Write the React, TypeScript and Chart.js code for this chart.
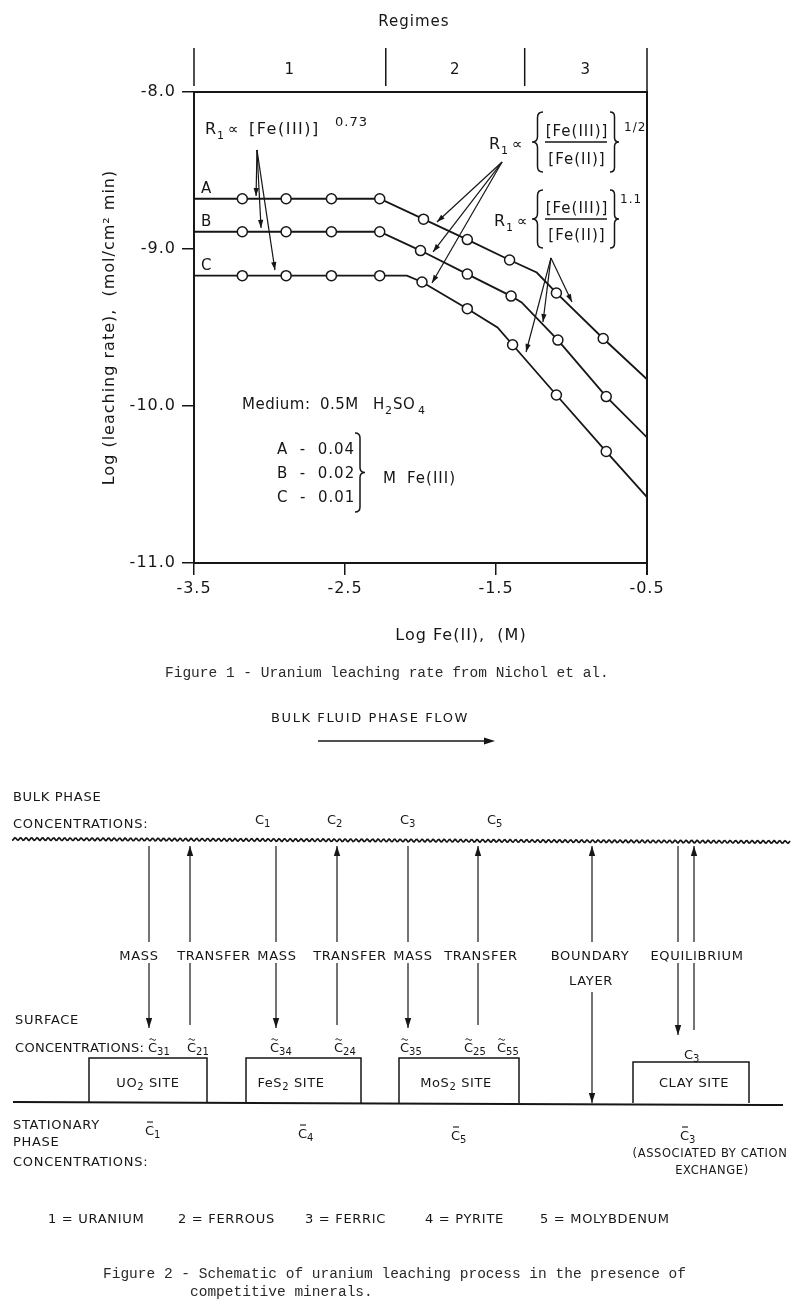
import React, { useEffect, useRef } from "react";
import { Chart, registerables } from "chart.js";

Chart.register(...registerables);

const FONT = "'DejaVu Sans', 'Liberation Sans', sans-serif";
const MONO = "'Liberation Mono', 'DejaVu Sans Mono', monospace";
const INK = "#161616";

// ---------------- chart data ----------------
const xTicks = [-3.5, -2.5, -1.5, -0.5];
const yTicks = [-8, -9, -10, -11];
const regimeBounds = [-3.5, -2.23, -1.31, -0.5];
const regimeLabels = ["1", "2", "3"];
const seriesLabels = ["A", "B", "C"];
const feIIIConc = ["0.04", "0.02", "0.01"];

// log Fe(II) (M) / log leaching rate; mark = 1 -> measured point (circle), 0 -> line vertex only
const logFeA = [-3.5, -3.18, -2.89, -2.59, -2.27, -1.98, -1.69, -1.41, -1.23, -1.1, -0.79, -0.5];
const rateA = [-8.68, -8.68, -8.68, -8.68, -8.68, -8.81, -8.94, -9.07, -9.15, -9.28, -9.57, -9.83];
const markA = [0, 1, 1, 1, 1, 1, 1, 1, 0, 1, 1, 0];

const logFeB = [-3.5, -3.18, -2.89, -2.59, -2.27, -2.0, -1.69, -1.4, -1.33, -1.09, -0.77, -0.5];
const rateB = [-8.89, -8.89, -8.89, -8.89, -8.89, -9.01, -9.16, -9.3, -9.34, -9.58, -9.94, -10.2];
const markB = [0, 1, 1, 1, 1, 1, 1, 1, 0, 1, 1, 0];

const logFeC = [-3.5, -3.18, -2.89, -2.59, -2.27, -2.09, -1.99, -1.69, -1.49, -1.39, -1.1, -0.77, -0.5];
const rateC = [-9.17, -9.17, -9.17, -9.17, -9.17, -9.17, -9.21, -9.38, -9.5, -9.61, -9.93, -10.29, -10.58];
const markC = [0, 1, 1, 1, 1, 0, 1, 1, 0, 1, 1, 1, 0];

// annotation arrows, in data units: [fromX, fromY, toX, toY]
const arrows073 = [
  [-3.083, -8.369, -3.089, -8.662],
  [-3.083, -8.369, -3.056, -8.866],
  [-3.083, -8.369, -2.964, -9.134],
];
const arrowsHalf = [
  [-1.46, -8.446, -1.891, -8.828],
  [-1.46, -8.446, -1.917, -9.019],
  [-1.46, -8.446, -1.924, -9.217],
];
const arrows11 = [
  [-1.136, -9.057, -0.997, -9.338],
  [-1.136, -9.057, -1.189, -9.465],
  [-1.136, -9.057, -1.301, -9.656],
];

function drawArrow(ctx: CanvasRenderingContext2D, x1: number, y1: number, x2: number, y2: number, head = 8) {
  ctx.beginPath();
  ctx.moveTo(x1, y1);
  ctx.lineTo(x2, y2);
  ctx.stroke();
  const a = Math.atan2(y2 - y1, x2 - x1);
  const w = head * 0.33;
  ctx.beginPath();
  ctx.moveTo(x2, y2);
  ctx.lineTo(x2 - head * Math.cos(a) + w * Math.sin(a), y2 - head * Math.sin(a) - w * Math.cos(a));
  ctx.lineTo(x2 - head * Math.cos(a) - w * Math.sin(a), y2 - head * Math.sin(a) + w * Math.cos(a));
  ctx.closePath();
  ctx.fill();
}

function drawBrace(ctx: CanvasRenderingContext2D, xo: number, y1: number, y2: number, w: number, dir: number) {
  const ym = (y1 + y2) / 2;
  const xm = xo + (dir * w) / 2;
  const xt = xo + dir * w;
  const r = Math.min(w / 2, (y2 - y1) / 6);
  ctx.beginPath();
  ctx.moveTo(xo, y1);
  ctx.quadraticCurveTo(xm, y1, xm, y1 + r);
  ctx.lineTo(xm, ym - r);
  ctx.quadraticCurveTo(xm, ym, xt, ym);
  ctx.quadraticCurveTo(xm, ym, xm, ym + r);
  ctx.lineTo(xm, y2 - r);
  ctx.quadraticCurveTo(xm, y2, xo, y2);
  ctx.stroke();
}

function drawR1(ctx: CanvasRenderingContext2D, x: number, base: number) {
  ctx.textAlign = "left";
  ctx.font = `16px ${FONT}`;
  ctx.fillText("R", x, base);
  ctx.font = `11px ${FONT}`;
  ctx.fillText("1", x + 12, base + 5);
  ctx.font = `15px ${FONT}`;
  ctx.fillText("\u221D", x + 23, base);
}

const overlayPlugin = {
  id: "overlay",
  beforeDraw(chart: any) {
    (chart.ctx as any).letterSpacing = "1px";
  },
  afterDraw(chart: any) {
    const ctx: CanvasRenderingContext2D = chart.ctx;
    const xs = chart.scales.x;
    const ys = chart.scales.y;
    const ca = chart.chartArea;
    const px = (v: number) => xs.getPixelForValue(v);
    const py = (v: number) => ys.getPixelForValue(v);
    ctx.save();
    (ctx as any).letterSpacing = "1px";
    ctx.strokeStyle = INK;
    ctx.fillStyle = INK;

    // top and right frame
    ctx.lineWidth = 2;
    ctx.beginPath();
    ctx.moveTo(ca.left, ca.top);
    ctx.lineTo(ca.right, ca.top);
    ctx.lineTo(ca.right, ca.bottom + 12);
    ctx.stroke();

    // regimes header
    ctx.lineWidth = 1.5;
    regimeBounds.forEach((b) => {
      const x = px(b);
      ctx.beginPath();
      ctx.moveTo(x, 48);
      ctx.lineTo(x, b === regimeBounds[regimeBounds.length - 1] ? ca.top : ca.top - 6);
      ctx.stroke();
    });
    ctx.font = `15px ${FONT}`;
    ctx.textAlign = "center";
    ctx.textBaseline = "middle";
    regimeLabels.forEach((l, i) => {
      ctx.fillText(l, (px(regimeBounds[i]) + px(regimeBounds[i + 1])) / 2, 70);
    });
    ctx.fillText("Regimes", 414, 22);

    // series letters
    ctx.textBaseline = "alphabetic";
    ctx.textAlign = "left";
    ctx.font = `15px ${FONT}`;
    [rateA[0], rateB[0], rateC[0]].forEach((r, i) => {
      ctx.fillText(seriesLabels[i], 201, py(r) - 6);
    });

    // arrows
    ctx.lineWidth = 1.2;
    [...arrows073, ...arrowsHalf, ...arrows11].forEach(([a, b, c, d]) => drawArrow(ctx, px(a), py(b), px(c), py(d)));

    // formula 1
    drawR1(ctx, 205, 134);
    ctx.font = `16px ${FONT}`;
    (ctx as any).letterSpacing = "1.5px";
    ctx.fillText("[Fe(III)]", 249, 134);
    (ctx as any).letterSpacing = "1px";
    ctx.font = `13px ${FONT}`;
    ctx.fillText("0.73", 335, 126);

    // formula 2 (1/2)
    drawR1(ctx, 489, 149);
    ctx.lineWidth = 1.5;
    drawBrace(ctx, 543, 112, 172, 11, -1);
    drawBrace(ctx, 610, 112, 172, 9, 1);
    ctx.font = `15px ${FONT}`;
    ctx.textAlign = "center";
    ctx.fillText("[Fe(III)]", 577, 136);
    ctx.fillText("[Fe(II)]", 577, 164);
    ctx.beginPath();
    ctx.moveTo(545, 142);
    ctx.lineTo(607, 142);
    ctx.stroke();
    ctx.textAlign = "left";
    ctx.font = `12px ${FONT}`;
    ctx.fillText("1/2", 624, 131);

    // formula 3 (1.1)
    drawR1(ctx, 494, 226);
    drawBrace(ctx, 543, 190, 248, 11, -1);
    drawBrace(ctx, 610, 190, 248, 9, 1);
    ctx.font = `15px ${FONT}`;
    ctx.textAlign = "center";
    ctx.fillText("[Fe(III)]", 577, 213);
    ctx.fillText("[Fe(II)]", 577, 240);
    ctx.beginPath();
    ctx.moveTo(545, 219);
    ctx.lineTo(607, 219);
    ctx.stroke();
    ctx.textAlign = "left";
    ctx.font = `12px ${FONT}`;
    ctx.fillText("1.1", 620, 203);

    // medium text
    (ctx as any).letterSpacing = "0.5px";
    ctx.font = `15px ${FONT}`;
    ctx.fillText("Medium:", 242, 409);
    ctx.fillText("0.5M", 320, 409);
    ctx.fillText("H", 373, 409);
    ctx.font = `11px ${FONT}`;
    ctx.fillText("2", 385, 414);
    ctx.font = `15px ${FONT}`;
    ctx.fillText("SO", 393, 409);
    ctx.font = `11px ${FONT}`;
    ctx.fillText("4", 418, 414);

    // legend of concentrations
    (ctx as any).letterSpacing = "1px";
    ctx.font = `15px ${FONT}`;
    const legY = [454, 478, 502];
    seriesLabels.forEach((s, i) => {
      ctx.fillText(`${s}  -  ${feIIIConc[i]}`, 277, legY[i]);
    });
    drawBrace(ctx, 355, 433, 512, 10, 1);
    ctx.fillText("M", 383, 483);
    ctx.fillText("Fe(III)", 407, 483);

    // x title
    ctx.textAlign = "center";
    ctx.font = `16px ${FONT}`;
    ctx.fillText("Log Fe(II),  (M)", 461, 640);

    // caption
    (ctx as any).letterSpacing = "0px";
    ctx.textAlign = "left";
    ctx.fillStyle = "#2a2a2a";
    ctx.font = `14.5px ${MONO}`;
    ctx.fillText("Figure 1 - Uranium leaching rate from Nichol et al.", 165, 677);
    ctx.restore();
  },
};

// ---------------- schematic ----------------
const S_FONT = "'DejaVu Sans', 'Liberation Sans', sans-serif";

function Txt(p: { x: number; y: number; children: any; anchor?: string; size?: number; ls?: number }) {
  return (
    <text
      x={p.x}
      y={p.y}
      fontSize={p.size ?? 13}
      fontFamily={S_FONT}
      letterSpacing={p.ls ?? 0.7}
      textAnchor={(p.anchor as any) ?? "start"}
      fill={INK}
    >
      {p.children}
    </text>
  );
}

function CLabel(p: { x: number; y: number; sub: string; mark?: "tilde" | "bar" }) {
  return (
    <g>
      <text x={p.x} y={p.y} fontSize={13} fontFamily={S_FONT} fill={INK}>
        C
        <tspan fontSize={10} dy={3}>
          {p.sub}
        </tspan>
      </text>
      {p.mark === "bar" && <line x1={p.x + 2} x2={p.x + 8} y1={p.y - 13} y2={p.y - 13} stroke={INK} strokeWidth={1.1} />}
      {p.mark === "tilde" && (
        <path d={`M${p.x + 1.5} ${p.y - 12.5} q1.6 -1.7 3.2 0 t3.2 0`} stroke={INK} strokeWidth={1} fill="none" />
      )}
    </g>
  );
}

function VLine(p: { x: number; segs: number[][]; up?: boolean; down?: boolean }) {
  const last = p.segs[p.segs.length - 1][1];
  const first = p.segs[0][0];
  return (
    <g>
      {p.segs.map((s, i) => (
        <line key={i} x1={p.x} x2={p.x} y1={s[0]} y2={s[1]} stroke={INK} strokeWidth={1.2} />
      ))}
      {p.up && <polygon points={`${p.x},${first} ${p.x - 3.2},${first + 10} ${p.x + 3.2},${first + 10}`} fill={INK} />}
      {p.down && <polygon points={`${p.x},${last} ${p.x - 3.2},${last - 10} ${p.x + 3.2},${last - 10}`} fill={INK} />}
    </g>
  );
}

const topSeg = [846, 942];
const vLines = [
  { x: 149, segs: [topSeg, [963, 1028]], down: true },
  { x: 190, segs: [topSeg, [963, 1025]], up: true },
  { x: 276, segs: [topSeg, [963, 1028]], down: true },
  { x: 337, segs: [topSeg, [963, 1025]], up: true },
  { x: 408, segs: [topSeg, [963, 1028]], down: true },
  { x: 478, segs: [topSeg, [963, 1025]], up: true },
  { x: 592, segs: [topSeg, [992, 1103]], up: true, down: true },
  { x: 678, segs: [topSeg, [963, 1035]], down: true },
  { x: 694, segs: [topSeg, [963, 1030]], up: true },
];
const flowWords = [
  ["MASS", 139],
  ["TRANSFER", 214],
  ["MASS", 277],
  ["TRANSFER", 350],
  ["MASS", 413],
  ["TRANSFER", 481],
  ["BOUNDARY", 590],
  ["EQUILIBRIUM", 697],
];
const boxes = [
  { x1: 89, x2: 207, top: 1058, name: "UO", sub: "2", cx: 148 },
  { x1: 246, x2: 361, top: 1058, name: "FeS", sub: "2", cx: 291 },
  { x1: 399, x2: 519, top: 1058, name: "MoS", sub: "2", cx: 456 },
  { x1: 633, x2: 749, top: 1062, name: "CLAY", sub: "", cx: 694 },
];
const legendItems = [
  ["1 = URANIUM", 48],
  ["2 = FERROUS", 178],
  ["3 = FERRIC", 305],
  ["4 = PYRITE", 425],
  ["5 = MOLYBDENUM", 540],
];

function wavyPath() {
  let d = "";
  for (let x = 12; x <= 790; x += 1) {
    const y = 839 + ((x - 12) / 778) * 3 + 1.3 * Math.sin((x * 2 * Math.PI) / 5.5);
    d += (x === 12 ? "M" : "L") + x + " " + y.toFixed(2) + " ";
  }
  return d;
}

function Schematic() {
  return (
    <svg
      width={800}
      height={1310}
      viewBox="0 0 800 1310"
      style={{ position: "absolute", left: 0, top: 0, pointerEvents: "none" }}
    >
      <Txt x={370} y={722} anchor="middle" ls={1.6}>
        BULK FLUID PHASE FLOW
      </Txt>
      <line x1={318} x2={487} y1={741} y2={741} stroke={INK} strokeWidth={1.3} />
      <polygon points="495,741 484,737.5 484,744.5" fill={INK} />

      <Txt x={13} y={801}>BULK PHASE</Txt>
      <Txt x={13} y={828}>CONCENTRATIONS:</Txt>
      <CLabel x={255} y={824} sub="1" />
      <CLabel x={327} y={824} sub="2" />
      <CLabel x={400} y={824} sub="3" />
      <CLabel x={487} y={824} sub="5" />
      <path d={wavyPath()} stroke={INK} strokeWidth={1.7} fill="none" />

      {vLines.map((v, i) => (
        <VLine key={i} {...(v as any)} />
      ))}
      {flowWords.map(([w, x], i) => (
        <Txt key={i} x={x as number} y={960} anchor="middle">
          {w}
        </Txt>
      ))}
      <Txt x={591} y={985} anchor="middle">
        LAYER
      </Txt>

      <Txt x={15} y={1024}>SURFACE</Txt>
      <Txt x={15} y={1052} ls={0.3}>CONCENTRATIONS:</Txt>
      <CLabel x={148} y={1052} sub="31" mark="tilde" />
      <CLabel x={187} y={1052} sub="21" mark="tilde" />
      <CLabel x={270} y={1052} sub="34" mark="tilde" />
      <CLabel x={334} y={1052} sub="24" mark="tilde" />
      <CLabel x={400} y={1052} sub="35" mark="tilde" />
      <CLabel x={464} y={1052} sub="25" mark="tilde" />
      <CLabel x={497} y={1052} sub="55" mark="tilde" />
      <CLabel x={684} y={1059} sub="3" />

      {boxes.map((b, i) => (
        <g key={i}>
          <polyline
            points={`${b.x1},1103 ${b.x1},${b.top} ${b.x2},${b.top} ${b.x2},1103`}
            stroke={INK}
            strokeWidth={1.5}
            fill="none"
          />
          <text x={b.cx} y={1087} fontSize={13} fontFamily={S_FONT} letterSpacing={0.6} textAnchor="middle" fill={INK}>
            {b.name}
            {b.sub && (
              <tspan fontSize={10} dy={3}>
                {b.sub}
              </tspan>
            )}
            <tspan dy={b.sub ? -3 : 0}> SITE</tspan>
          </text>
        </g>
      ))}
      <line x1={13} y1={1102} x2={783} y2={1105} stroke={INK} strokeWidth={2} />

      <Txt x={13} y={1129}>STATIONARY</Txt>
      <Txt x={13} y={1146}>PHASE</Txt>
      <Txt x={13} y={1166}>CONCENTRATIONS:</Txt>
      <CLabel x={145} y={1135} sub="1" mark="bar" />
      <CLabel x={298} y={1138} sub="4" mark="bar" />
      <CLabel x={451} y={1140} sub="5" mark="bar" />
      <CLabel x={680} y={1140} sub="3" mark="bar" />
      <Txt x={710} y={1157} anchor="middle" size={11.5} ls={0.6}>
        (ASSOCIATED BY CATION
      </Txt>
      <Txt x={712} y={1174} anchor="middle" size={11.5} ls={0.6}>
        EXCHANGE)
      </Txt>

      {legendItems.map(([t, x], i) => (
        <Txt key={i} x={x as number} y={1223}>
          {t}
        </Txt>
      ))}

      <text x={103} y={1278} fontSize={14.5} fontFamily={MONO} fill="#2a2a2a">
        Figure 2 - Schematic of uranium leaching process in the presence of
      </text>
      <text x={190} y={1296} fontSize={14.5} fontFamily={MONO} fill="#2a2a2a">
        competitive minerals.
      </text>
    </svg>
  );
}

// ---------------- component ----------------
export default function App() {
  const ref = useRef<HTMLCanvasElement>(null);

  useEffect(() => {
    const mk = (xv: number[], yv: number[], mv: number[], label: string) => ({
      label,
      data: xv.map((x, i) => ({ x, y: yv[i] })),
      pointRadius: mv.map((m) => (m ? 5 : 0)),
      pointHoverRadius: mv.map((m) => (m ? 5 : 0)),
      pointBackgroundColor: "#ffffff",
      pointBorderColor: INK,
      pointBorderWidth: 1.5,
      borderColor: INK,
      borderWidth: 1.8,
      tension: 0,
      fill: false,
    });

    const axisGrid = {
      display: true,
      drawOnChartArea: false,
      drawTicks: true,
      tickLength: 12,
      color: INK,
      lineWidth: 1.5,
    };

    const chart = new Chart(ref.current as HTMLCanvasElement, {
      type: "line",
      data: {
        datasets: [
          mk(logFeA, rateA, markA, seriesLabels[0]),
          mk(logFeB, rateB, markB, seriesLabels[1]),
          mk(logFeC, rateC, markC, seriesLabels[2]),
        ],
      },
      options: {
        animation: false,
        responsive: false,
        devicePixelRatio: 1,
        layout: { padding: { left: 0, right: 153, top: 92, bottom: 97 } },
        plugins: { legend: { display: false }, tooltip: { enabled: false } },
        scales: {
          x: {
            type: "linear",
            min: -3.5,
            max: -0.5,
            afterBuildTicks: (s: any) => {
              s.ticks = xTicks.map((v) => ({ value: v }));
            },
            afterFit: (s: any) => {
              s.height = 40;
            },
            ticks: {
              font: { size: 16, family: FONT },
              color: INK,
              padding: 4,
              maxRotation: 0,
              callback: (v: any) => Number(v).toFixed(1),
            },
            grid: axisGrid,
            border: { display: true, color: INK, width: 2 },
          },
          y: {
            type: "linear",
            min: -11,
            max: -8,
            afterBuildTicks: (s: any) => {
              s.ticks = yTicks.map((v) => ({ value: v }));
            },
            afterFit: (s: any) => {
              s.width = 194;
            },
            ticks: {
              font: { size: 16, family: FONT },
              color: INK,
              padding: 6,
              callback: (v: any) => Number(v).toFixed(1),
            },
            grid: axisGrid,
            border: { display: true, color: INK, width: 2 },
            title: {
              display: true,
              text: "Log (leaching rate),  (mol/cm\u00B2 min)",
              font: { size: 16, family: FONT },
              color: INK,
              padding: { top: 100, bottom: 0 },
            },
          },
        },
      } as any,
      plugins: [overlayPlugin as any],
    });
    return () => chart.destroy();
  }, []);

  return (
    <div style={{ position: "absolute", left: 0, top: 0, width: 800, height: 1310, background: "#ffffff" }}>
      <canvas
        ref={ref}
        width={800}
        height={700}
        style={{ position: "absolute", left: 0, top: 0, width: 800, height: 700 }}
      />
      <Schematic />
    </div>
  );
}
